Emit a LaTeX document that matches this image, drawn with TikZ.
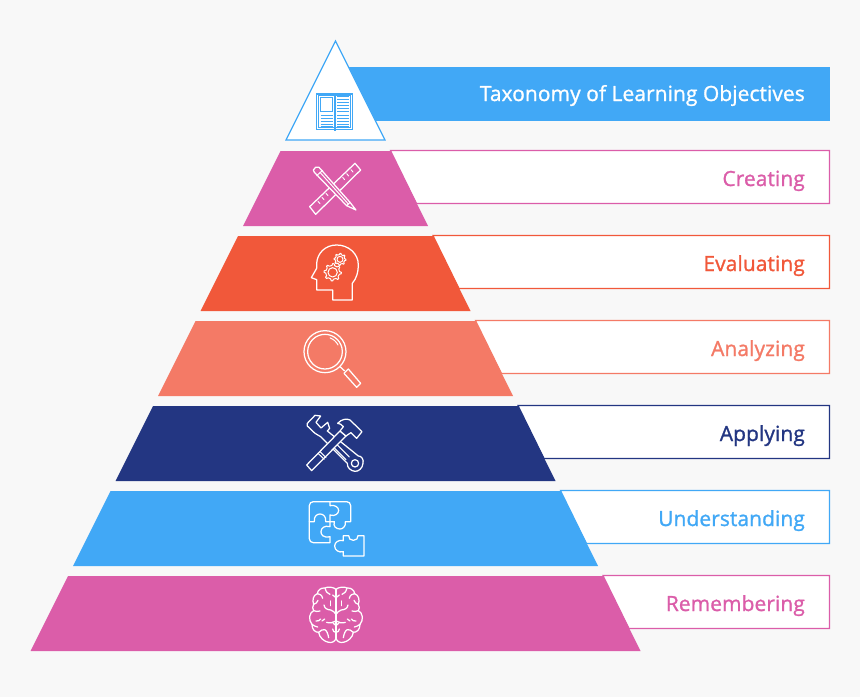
\documentclass[tikz,border=0pt]{standalone}
\usepackage{fontspec}
\setmainfont{Open Sans}
\newfontfamily\labfont[FakeBold=1.2,LetterSpace=0.5]{Open Sans}
\definecolor{bgc}{HTML}{F8F8F8}
\definecolor{pinkc}{HTML}{DB5DA9}
\definecolor{redc}{HTML}{F1583A}
\definecolor{salmonc}{HTML}{F47A66}
\definecolor{navyc}{HTML}{233682}
\definecolor{bluec}{HTML}{41A8F6}
\tikzset{
  lab/.style={anchor=base east,font=\labfont\fontsize{20.9}{24}\selectfont,text=#1,inner sep=0pt},
  band/.style={draw=#1,fill=white,line width=1.1pt},
  tier/.style={fill=#1},
  ic/.style={draw=white,line width=1.25pt,line join=round,line cap=round},
  icf/.style={draw=white,fill=#1,line width=1.25pt,line join=round,line cap=round},
}
\newcommand{\tiershape}[4]{% top y, bottom y, band bottom y, colour
  \draw[band=#4] ({335.5+(#1-41)/2},#1-.5) -- (829.5,#1-.5) -- (829.5,#3+.5) -- ({335.5+(#3-41)/2},#3+.5) -- cycle;
  \fill[tier=#4] ({335.5-(#1-41)/2},#1) -- ({335.5+(#1-41)/2},#1) -- ({335.5+(#2-41)/2},#2) -- ({335.5-(#2-41)/2},#2) -- cycle;
}
\newcommand{\cogwheel}[5]{% cx cy r-outer r-inner teeth
  \begin{scope}[shift={(#1,#2)}]
    \pgfmathsetmacro{\st}{360/#5}
    \draw[ic,line width=1pt] (0:#3)
      \foreach \k in {1,...,#5}{
        -- ({(\k-1)*\st+.22*\st}:#3) -- ({(\k-1)*\st+.36*\st}:#3*.8) -- ({(\k-1)*\st+.86*\st}:#3*.8) -- ({\k*\st-.0*\st}:#3)
      } -- cycle;
    \draw[ic,line width=1pt] (0,0) circle (#4);
  \end{scope}
}
\newcommand{\brainhalf}{%
  \draw[ic] (0,283) .. controls (-8,276) and (-25,274) .. (-33,279) .. controls (-45,278) and (-55,285) .. (-56,296)
     .. controls (-68,300) and (-72,315) .. (-67,328) .. controls (-72,335) and (-70,342) .. (-67,347)
     .. controls (-80,352) and (-84,375) .. (-72,388) .. controls (-72,405) and (-62,412) .. (-52,412)
     .. controls (-50,428) and (-35,440) .. (-22,442) .. controls (-12,444) and (-3,440) .. (0,430);
  \draw[ic] (0,283) -- (0,430);
  \draw[ic] (0,308) -- (-10,300);
  \draw[ic] (0,392) -- (-9,384);
  \draw[ic] (-33,279) .. controls (-30,290) and (-26,296) .. (-18,298);
  \draw[ic] (-56,296) .. controls (-50,296) and (-42,300) .. (-40,310);
  \draw[ic] (-16,318) -- (-16,332);
  \draw[ic] (0,358) .. controls (-6,352) and (-8,346) .. (-16,345) .. controls (-28,344) and (-34,340) .. (-36,330);
  \draw[ic] (-67,328) .. controls (-60,326) and (-56,322) .. (-54,316);
  \draw[ic] (-67,347) .. controls (-60,350) and (-55,350) .. (-48,348);
  \draw[ic] (-60,378) .. controls (-54,380) and (-50,376) .. (-46,372);
  \draw[ic] (-34,372) -- (-42,378);
  \draw[ic] (-28,382) .. controls (-18,386) and (-8,382) .. (0,378);
  \draw[ic] (-72,388) .. controls (-66,392) and (-60,396) .. (-55,396);
  \draw[ic] (-52,412) .. controls (-46,406) and (-40,403) .. (-34,404) .. controls (-28,406) and (-24,416) .. (-22,428);
  \draw[ic] (0,412) .. controls (-6,412) and (-9,408) .. (-10,402);
}
\begin{document}
\begin{tikzpicture}[x=1pt,y=-1pt]
\useasboundingbox (0,0) rectangle (860,697);
\fill[bgc] (0,0) rectangle (860,697);

% title band and apex
\fill[bluec] (340,67) rectangle (830,121);
\draw[draw=bluec,fill=white,line width=1.2pt,line join=miter] (335.5,41) -- (385,140) -- (286,140) -- cycle;

\tiershape{151}{226}{203}{pinkc}
\tiershape{236}{311}{288}{redc}
\tiershape{321}{396}{373}{salmonc}
\tiershape{406}{481}{458}{navyc}
\tiershape{491}{566}{543}{bluec}
\tiershape{576}{651}{628}{pinkc}

\node[lab=white] (title) at (805,101) {Taxonomy of Learning Objectives};
\node[lab=pinkc] (creating) at (805,186) {Creating};
\node[lab=redc] (evaluating) at (805,271) {Evaluating};
\node[lab=salmonc] (analyzing) at (805,356) {Analyzing};
\node[lab=navyc] (applying) at (805,441) {Applying};
\node[lab=bluec] (understanding) at (805,526) {Understanding};
\node[lab=pinkc] (remembering) at (805,611) {Remembering};

% book
\begin{scope}[shift={(280,30)},x=.3333pt,y=-.3333pt]
  \draw[bluec,line width=1.5pt] (110,192) rectangle (218,298);
  \draw[bluec,line width=.8pt] (116,197) rectangle (212,293);
  \draw[bluec,line width=1.2pt] (165,192) -- (165,303);
  \draw[bluec,line width=1.2pt] (122,203) rectangle (158,244);
  \foreach \y in {256,265,274,283,291}{\draw[bluec,line width=1pt] (122,\y) -- (158,\y);}
  \foreach \y in {201,210,219,228,237,246,256,265,274,283,291}{\draw[bluec,line width=1pt] (172,\y) -- (208,\y);}
\end{scope}

% ruler and pencil
\begin{scope}[shift={(290,155)},x=.3333pt,y=-.3333pt]
  \draw[ic] (59,155) -- (195,25) -- (212,45) -- (77,178) -- cycle;
  \foreach \a/\b in {84/137,96/125,108/113,133/90,158/65,170/54,183/42}{
     \draw[ic,line width=.9pt] (\a,\b+2) -- (\a+6,\b+9);}
  \draw[icf=pinkc] (70,45) .. controls (72,38) and (80,33) .. (87,37) -- (180,142) -- (198,165) -- (170,152) -- (73,52) -- cycle;
  \draw[ic,line width=1pt] (80,62) -- (98,46);
  \draw[ic,line width=1pt] (90,52) -- (175,147);
  \draw[ic,line width=1pt] (170,152) -- (180,142);
\end{scope}

% head with cogs
\begin{scope}[shift={(290,155)},x=.3333pt,y=-.3333pt]
  \draw[ic] (128,405) -- (128,435) -- (187,435) -- (187,385)
     .. controls (200,370) and (205,350) .. (205,330)
     .. controls (205,295) and (175,270) .. (140,270)
     .. controls (105,270) and (82,295) .. (80,325)
     -- (80,340) -- (64,368) -- (80,374) -- (80,405) -- cycle;
  \cogwheel{128}{352}{26}{14}{8}
  \cogwheel{150}{313}{18}{9}{8}
\end{scope}

% magnifier
\begin{scope}[shift={(290,325)},x=.3333pt,y=-.3333pt]
  \draw[ic] (105,80) circle (63);
  \draw[ic] (105,80) circle (52);
  \draw[ic,line width=1pt] (105,80) ++(-70:44) arc[start angle=-70,end angle=-27,radius=44];
  \draw[ic] (150,125) -- (163,137);
  \draw[ic] (175,132) -- (212,175) -- (200,187) -- (162,145) -- cycle;
\end{scope}

% wrench and hammer
\begin{scope}[shift={(290,325)},x=.3333pt,y=-.3333pt]
  \draw[ic] (52,295) -- (75,271) -- (92,273) -- (78,292) -- (93,309) -- (113,292) -- (119,310) -- (112,318) -- (205,393)
     .. controls (215,392) and (222,405) .. (219,415)
     .. controls (218,430) and (205,440) .. (195,439)
     .. controls (182,438) and (171,428) .. (172,415) -- (92,335) -- (75,325) -- (52,303) -- cycle;
  \draw[ic] (195,415) circle (11);
  \draw[ic,line width=1pt] (132,368) -- (168,404);
  \draw[ic,line width=1pt] (142,360) -- (178,396);
  \draw[icf=navyc] (50,420) -- (150,318) -- (168,333) -- (65,437) -- cycle;
  \draw[icf=navyc] (143,295) .. controls (155,282) and (170,280) .. (180,285)
     -- (216,320) -- (200,340) -- (183,323) -- (168,333) -- (150,318) -- (160,305) .. controls (155,298) and (150,296) .. (143,295) -- cycle;
  \draw[ic,line width=1pt] (84,385) -- (103,403);
  \draw[ic,line width=1pt] (90,380) -- (108,398);
\end{scope}

% puzzle
\begin{scope}[shift={(290,495)},x=.3333pt,y=-.3333pt]
  \draw[ic] (120,20) -- (70,20) .. controls (63,20) and (58,25) .. (58,32) -- (58,131)
     .. controls (58,138) and (63,143) .. (70,143) -- (120,143) -- (120,125)
     .. controls (100,130) and (92,118) .. (93,110) .. controls (93,100) and (103,90) .. (120,95) -- (120,80);
  \draw[ic] (120,20) -- (170,20) .. controls (177,20) and (182,25) .. (182,32) -- (182,80) -- (166,80)
     .. controls (168,95) and (158,102) .. (150,102) .. controls (140,102) and (128,95) .. (133,80) -- (120,80);
  \draw[ic] (120,20) -- (120,32) .. controls (135,28) and (146,38) .. (146,46) .. controls (146,56) and (135,65) .. (120,60) -- (120,80);
  \draw[ic] (58,80) -- (73,80) .. controls (71,65) and (80,57) .. (90,57) .. controls (100,57) and (109,65) .. (107,80) -- (120,80);
  \draw[ic] (160,122) -- (176,122) .. controls (174,130) and (182,136) .. (190,136)
     .. controls (198,136) and (206,130) .. (204,122) -- (222,122) -- (222,183) -- (160,183) -- (160,170)
     .. controls (146,174) and (134,165) .. (134,153) .. controls (134,142) and (146,133) .. (160,137) -- cycle;
\end{scope}

% brain
\begin{scope}[shift={(290,495)},x=.3333pt,y=-.3333pt]
  \begin{scope}[shift={(138,0)}]\brainhalf\end{scope}
  \begin{scope}[shift={(138,0)},xscale=-1]\brainhalf\end{scope}
\end{scope}
\end{tikzpicture}
\end{document}
